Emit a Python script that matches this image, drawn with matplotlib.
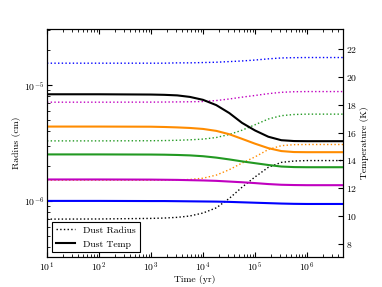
import matplotlib
matplotlib.use("Agg")
import matplotlib.pyplot as plt
from matplotlib.lines import Line2D

plt.rcParams['font.family'] = 'serif'
plt.rcParams['font.serif'] = ['cmr10', 'DejaVu Serif']
plt.rcParams['mathtext.fontset'] = 'cm'
plt.rcParams['axes.formatter.use_mathtext'] = True
plt.rcParams['font.size'] = 7

# time grid (yr)
time = [1e1, 1e2, 1e3, 1.8e3, 3.2e3, 5.6e3, 1e4, 1.8e4, 3.2e4, 5.6e4,
        1e5, 1.8e5, 3.2e5, 5.6e5, 1e6, 5e6]

# dust radius (cm)
rad_blue = [1.55e-5, 1.55e-5, 1.55e-5, 1.55e-5, 1.56e-5, 1.56e-5, 1.57e-5, 1.58e-5,
            1.60e-5, 1.62e-5, 1.65e-5, 1.69e-5, 1.72e-5, 1.73e-5, 1.735e-5, 1.735e-5]
rad_magenta = [7.13e-6, 7.13e-6, 7.14e-6, 7.15e-6, 7.17e-6, 7.19e-6, 7.23e-6, 7.37e-6,
               7.60e-6, 7.88e-6, 8.15e-6, 8.45e-6, 8.68e-6, 8.78e-6, 8.81e-6, 8.81e-6]
rad_green = [3.30e-6, 3.30e-6, 3.31e-6, 3.32e-6, 3.34e-6, 3.37e-6, 3.42e-6, 3.53e-6,
             3.75e-6, 4.08e-6, 4.55e-6, 5.10e-6, 5.45e-6, 5.58e-6, 5.62e-6, 5.62e-6]
rad_orange = [1.51e-6, 1.51e-6, 1.51e-6, 1.51e-6, 1.52e-6, 1.53e-6, 1.57e-6, 1.67e-6,
              1.86e-6, 2.12e-6, 2.40e-6, 2.78e-6, 3.00e-6, 3.06e-6, 3.07e-6, 3.07e-6]
rad_black = [6.95e-7, 6.97e-7, 7.05e-7, 7.10e-7, 7.20e-7, 7.40e-7, 7.85e-7, 8.70e-7,
             1.05e-6, 1.31e-6, 1.61e-6, 1.95e-6, 2.15e-6, 2.21e-6, 2.23e-6, 2.23e-6]

# dust temperature (K)
temp_black = [18.75, 18.75, 18.73, 18.71, 18.67, 18.56, 18.35, 17.97,
              17.40, 16.70, 16.15, 15.70, 15.45, 15.39, 15.38, 15.38]
temp_orange = [16.43, 16.43, 16.42, 16.40, 16.37, 16.33, 16.26, 16.12,
               15.88, 15.55, 15.20, 14.88, 14.67, 14.60, 14.59, 14.59]
temp_green = [14.43, 14.43, 14.42, 14.41, 14.39, 14.36, 14.30, 14.20,
              14.07, 13.93, 13.80, 13.67, 13.56, 13.52, 13.51, 13.51]
temp_magenta = [12.63, 12.63, 12.62, 12.61, 12.60, 12.58, 12.56, 12.53,
                12.48, 12.43, 12.37, 12.30, 12.25, 12.23, 12.22, 12.22]
temp_blue = [11.09, 11.09, 11.08, 11.08, 11.07, 11.06, 11.05, 11.04,
             11.02, 10.99, 10.96, 10.93, 10.90, 10.88, 10.87, 10.87]

colors = ['#0000ff', '#c000c0', '#229922', '#ff8c00', 'k']
radii = [rad_blue, rad_magenta, rad_green, rad_orange, rad_black]
temps = [temp_blue, temp_magenta, temp_green, temp_orange, temp_black]

fig = plt.figure(figsize=(3.82, 2.87), dpi=100)
ax = fig.add_axes([0.123, 0.1035, 0.776, 0.7965])
ax2 = ax.twinx()

for r, c in zip(radii, colors):
    ax.plot(time, r, ':', color=c, lw=1.0)
for t, c in zip(temps, colors):
    ax2.plot(time, t, '-', color=c, lw=1.5)

ax.set_xscale('log')
ax.set_yscale('log')
ax.set_xlim(10, 5e6)
ax.set_ylim(3.25e-7, 3.08e-5)
ax2.set_ylim(7.04, 23.46)
ax2.set_yticks([8, 10, 12, 14, 16, 18, 20, 22])

ax.set_xlabel('Time (yr)', labelpad=1)
ax.set_ylabel('Radius (cm)', labelpad=2)
ax2.set_ylabel('Temperature (K)', labelpad=2)

ax.tick_params(which='both', direction='in', top=True, pad=2)
ax2.tick_params(which='both', direction='in', pad=2)

handles = [Line2D([], [], ls=':', color='k', lw=1.0),
           Line2D([], [], ls='-', color='k', lw=1.5)]
leg = ax.legend(handles, ['Dust Radius', 'Dust Temp'], loc='lower left',
                fancybox=False, edgecolor='k', framealpha=1, fontsize=7)
leg.get_frame().set_linewidth(0.8)

fig.savefig('out.png', dpi=100)
